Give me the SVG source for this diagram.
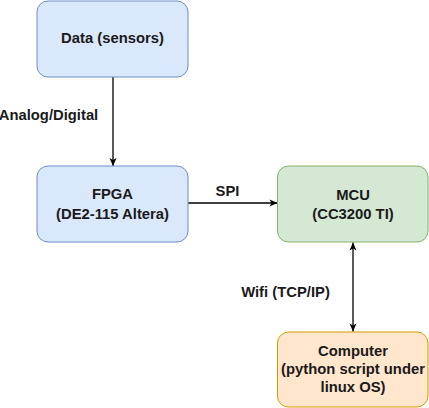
<svg xmlns="http://www.w3.org/2000/svg" width="429" height="408" viewBox="0 0 429 408">
<style>
.box{stroke-width:1}
.blue{fill:#dae8fc;stroke:#6c8ebf}
.green{fill:#d5e8d4;stroke:#82b366}
.orange{fill:#ffe6cc;stroke:#d79b00}
text{font-family:"Liberation Sans",Arial,sans-serif;font-weight:bold;font-size:14.8px;fill:#1a1a1a;text-anchor:middle}
.edge{stroke:#000;stroke-width:1.3;fill:none}
</style>
<defs>
<marker id="arr" markerWidth="10" markerHeight="10" refX="9" refY="5" orient="auto" markerUnits="userSpaceOnUse">
<path d="M1,1.5 L9,5 L1,8.5 L3,5 Z" fill="#000"/>
</marker>
<marker id="arrS" markerWidth="10" markerHeight="10" refX="1" refY="5" orient="auto" markerUnits="userSpaceOnUse">
<path d="M9,1.5 L1,5 L9,8.5 L7,5 Z" fill="#000"/>
</marker>
</defs>
<g id="connectors">
<line class="edge" x1="113" y1="77" x2="113" y2="166" marker-end="url(#arr)"/>
<text x="48.5" y="120">Analog/Digital</text>
<line class="edge" x1="188" y1="203" x2="277.5" y2="203" marker-end="url(#arr)"/>
<text x="227.5" y="196">SPI</text>
<line class="edge" x1="353" y1="242.5" x2="353" y2="331.5" marker-start="url(#arrS)" marker-end="url(#arr)"/>
<text x="285.5" y="297">Wifi (TCP/IP)</text>
</g>
<g id="data">
<rect class="box blue" x="37" y="1" width="151" height="76" rx="11"/>
<text x="112.5" y="43">Data (sensors)</text>
</g>
<g id="fpga">
<rect class="box blue" x="37" y="166" width="151" height="76" rx="11"/>
<text x="112.5" y="199">FPGA</text>
<text x="112.5" y="219">(DE2-115 Altera)</text>
</g>
<g id="mcu">
<rect class="box green" x="277.5" y="166" width="150.5" height="76" rx="11"/>
<text x="353" y="200">MCU</text>
<text x="353" y="219">(CC3200 TI)</text>
</g>
<g id="computer">
<rect class="box orange" x="277.5" y="332" width="150.5" height="75" rx="11"/>
<text x="353" y="356">Computer</text>
<text x="353" y="374">(python script under</text>
<text x="353" y="392">linux OS)</text>
</g>
</svg>
